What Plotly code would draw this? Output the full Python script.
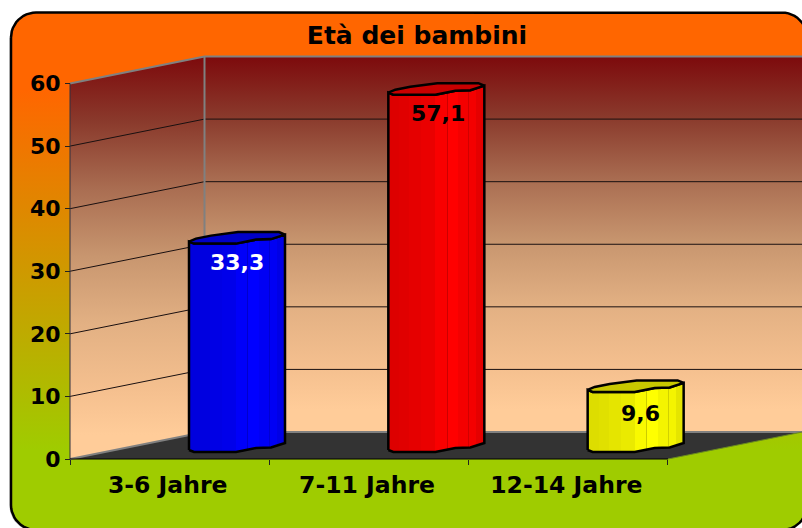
import math
import plotly.graph_objects as go

# ---- chart data ----
title = "Età dei bambini"
categories = ["3-6 Jahre", "7-11 Jahre", "12-14 Jahre"]
values = [33.3, 57.1, 9.6]
y_ticks = [0, 10, 20, 30, 40, 50, 60]
bar_colors = [(0, 0, 255), (255, 0, 0), (255, 255, 0)]
top_colors = ["#0000c8", "#c80000", "#c8c800"]
label_colors = ["white", "black", "black"]
label_shifts = [-12, -12, -15]
label_dx = [166.5, 169, 172]

# ---- geometry (pixels) ----
W, H = 802, 528
X0, Y0 = 70, 459            # front origin of the axes
CAT_W = 199.33              # pixels per category
UNIT = 6.258                # pixels per value unit
DX, DY = 134.5, 27          # 3-D depth offset
Y_MAX = 60
FONT = "DejaVu Sans"


def xd(px):
    return (px - X0) / CAT_W


def yd(px):
    return (Y0 - px) / UNIT


fig = go.Figure()


def poly(xs, ys, fill=None, line=None, lw=1, grad=None):
    kw = {}
    if grad is not None:
        kw["fillgradient"] = grad
    elif fill is not None:
        kw["fillcolor"] = fill
    fig.add_trace(go.Scatter(
        x=xs, y=ys, mode="lines", hoverinfo="skip", showlegend=False,
        fill="toself" if (fill is not None or grad is not None) else "none",
        line=dict(color=line or "rgba(0,0,0,0)", width=lw if line else 0), **kw))


# ---- rounded card with orange -> green gradient ----
def card():
    L, T, R, B, r = 11, 12.5, 807, 530, 25
    pts = []
    for cx, cy, a0 in [(L + r, T + r, 180), (R - r, T + r, 270), (R - r, B - r, 0), (L + r, B - r, 90)]:
        for k in range(13):
            a = math.radians(a0 + k * 7.5)
            pts.append((cx + r * math.cos(a), cy + r * math.sin(a)))
    pts.append(pts[0])
    return [xd(p[0]) for p in pts], [yd(p[1]) for p in pts]


cx, cy = card()
poly([c - 1.5 / CAT_W for c in cx], [c - 1 / UNIT for c in cy], fill="rgba(120,120,120,0.45)")
poly(cx, cy, line="black", lw=2.5, grad=dict(
    type="vertical",
    colorscale=[[0, "#9fcc00"], [0.155, "#9fcc00"], [0.85, "#ff6600"], [1, "#ff6600"]]))

# ---- walls ----
wall_scale = [[0, "#ffcc99"], [0.06, "#ffcc99"], [0.168, "#f5c08f"], [0.338, "#e2b083"], [0.503, "#c8966f"],
              [0.668, "#aa6e52"], [0.838, "#8a3a2c"], [1, "#7d0a0c"]]
xB = xd(X0 + DX)
xE = 3 + xd(X0 + DX)
yB = yd(Y0 - DY)
poly([0, xB, xB, 0, 0], [0, yB, yB + Y_MAX, Y_MAX, 0], grad=dict(type="vertical", colorscale=wall_scale))
poly([xB, xE, xE, xB, xB], [yB, yB, yB + Y_MAX, yB + Y_MAX, yB], grad=dict(type="vertical", colorscale=wall_scale))

# gridlines
for t in y_ticks[1:-1]:
    poly([0, xB, xE], [t, yB + t, yB + t], line="#1a1010", lw=1)

# floor
poly([0, 3, xE, xB, 0], [0, 0, yB, yB, 0], fill="#333333")

# wall edges
poly([0, xB, xE], [Y_MAX, yB + Y_MAX, yB + Y_MAX], line="#808080", lw=2)
poly([xB, xB], [yB, yB + Y_MAX], line="#808080", lw=2)
poly([0, xB, xE], [0, yB, yB], line="#808080", lw=2)
poly([3, xE], [0, yB], line="#6a8a20", lw=1)
poly([0, 0], [0, Y_MAX], line="#303040", lw=1)

# ---- bars ----
BAR_LEFT = 119       # px from category start
BASE_UP = 7          # px of bar base above front axis
front_uv = [(0, 2.0), (5, 0), (47, 0), (67, 4), (82, 4.5), (96, 9)]
back_uv = [(96, 9), (90, 11.5), (49, 11.5), (22, 8), (7, 5), (0, 2.0)]
band_stops = [(0, .87), (11, .88), (21, .90), (33, .92), (47, .98), (58.5, .80), (59.5, 1.0),
              (70, .96), (80, .82), (81, .96), (88, .90)]


def shade(rgb, f):
    return "rgb(%d,%d,%d)" % tuple(int(c * f) for c in rgb)


def band_scale(rgb):
    scale = []
    for k, (u, f) in enumerate(band_stops):
        nxt = band_stops[k + 1][0] if k + 1 < len(band_stops) else 96
        scale.append([u / 96, shade(rgb, f)])
        scale.append([nxt / 96, shade(rgb, f)])
    return scale


for i, (v, rgb, tc) in enumerate(zip(values, bar_colors, top_colors)):
    x_left = i + BAR_LEFT / CAT_W
    base = BASE_UP / UNIT
    bx = lambda u: x_left + u / CAT_W
    xs = [bx(u) for u, _ in front_uv] + [bx(u) for u, _ in reversed(front_uv)] + [bx(front_uv[0][0])]
    ys = ([base + w / UNIT for _, w in front_uv]
          + [base + v + w / UNIT for _, w in reversed(front_uv)]
          + [base + front_uv[0][1] / UNIT])
    poly(xs, ys, line="black", lw=2.5, grad=dict(type="horizontal", colorscale=band_scale(rgb)))
    tx = [bx(u) for u, _ in front_uv] + [bx(u) for u, _ in back_uv]
    ty = [base + v + w / UNIT for _, w in front_uv] + [base + v + w / UNIT for _, w in back_uv]
    poly(tx, ty, fill=tc, line="black", lw=2.5)

# ---- data labels ----
annotations = [dict(
    x=i + d / CAT_W, y=v, yshift=s, text=f"{v}".replace(".", ","), showarrow=False,
    font=dict(family=FONT, size=22, color=lc, weight="bold"))
    for i, (v, lc, s, d) in enumerate(zip(values, label_colors, label_shifts, label_dx))]
# axis baseline
poly([0, 3], [0, 0], line="black", lw=1)

fig.update_layout(
    width=W, height=H, margin=dict(l=0, r=0, t=0, b=0),
    paper_bgcolor="white", plot_bgcolor="rgba(0,0,0,0)",
    showlegend=False, hovermode=False,
    title=dict(text=title, x=417 / W, xanchor="center", y=1 - 35 / H, yanchor="middle",
               font=dict(family=FONT, size=25, color="black", weight="bold")),
    annotations=annotations,
    xaxis=dict(range=[xd(0), xd(W)], domain=[0, 1], anchor="free", position=(H - Y0) / H,
               tickvals=[k + 0.49 for k in range(len(categories))], ticktext=categories,
               ticks="", ticklen=0, showgrid=False, zeroline=False, showline=False,
               ticklabelstandoff=9,
               tickfont=dict(family=FONT, size=23.5, color="black", weight="bold"),
               minor=dict(tickvals=list(range(len(categories) + 1)), ticks="outside", ticklen=5,
                          tickcolor="#222222", tickwidth=1, showgrid=False)),
    yaxis=dict(range=[yd(H), yd(0)], domain=[0, 1], anchor="free", position=X0 / W,
               tickvals=y_ticks, ticks="outside", ticklen=5, tickcolor="#222222",
               showgrid=False, zeroline=False, showline=False,
               tickfont=dict(family=FONT, size=22, color="black", weight="bold")),
)
fig.write_html("out.html", config=dict(displayModeBar=False),
               post_script="document.body.style.margin='0';document.body.style.overflow='hidden';")
